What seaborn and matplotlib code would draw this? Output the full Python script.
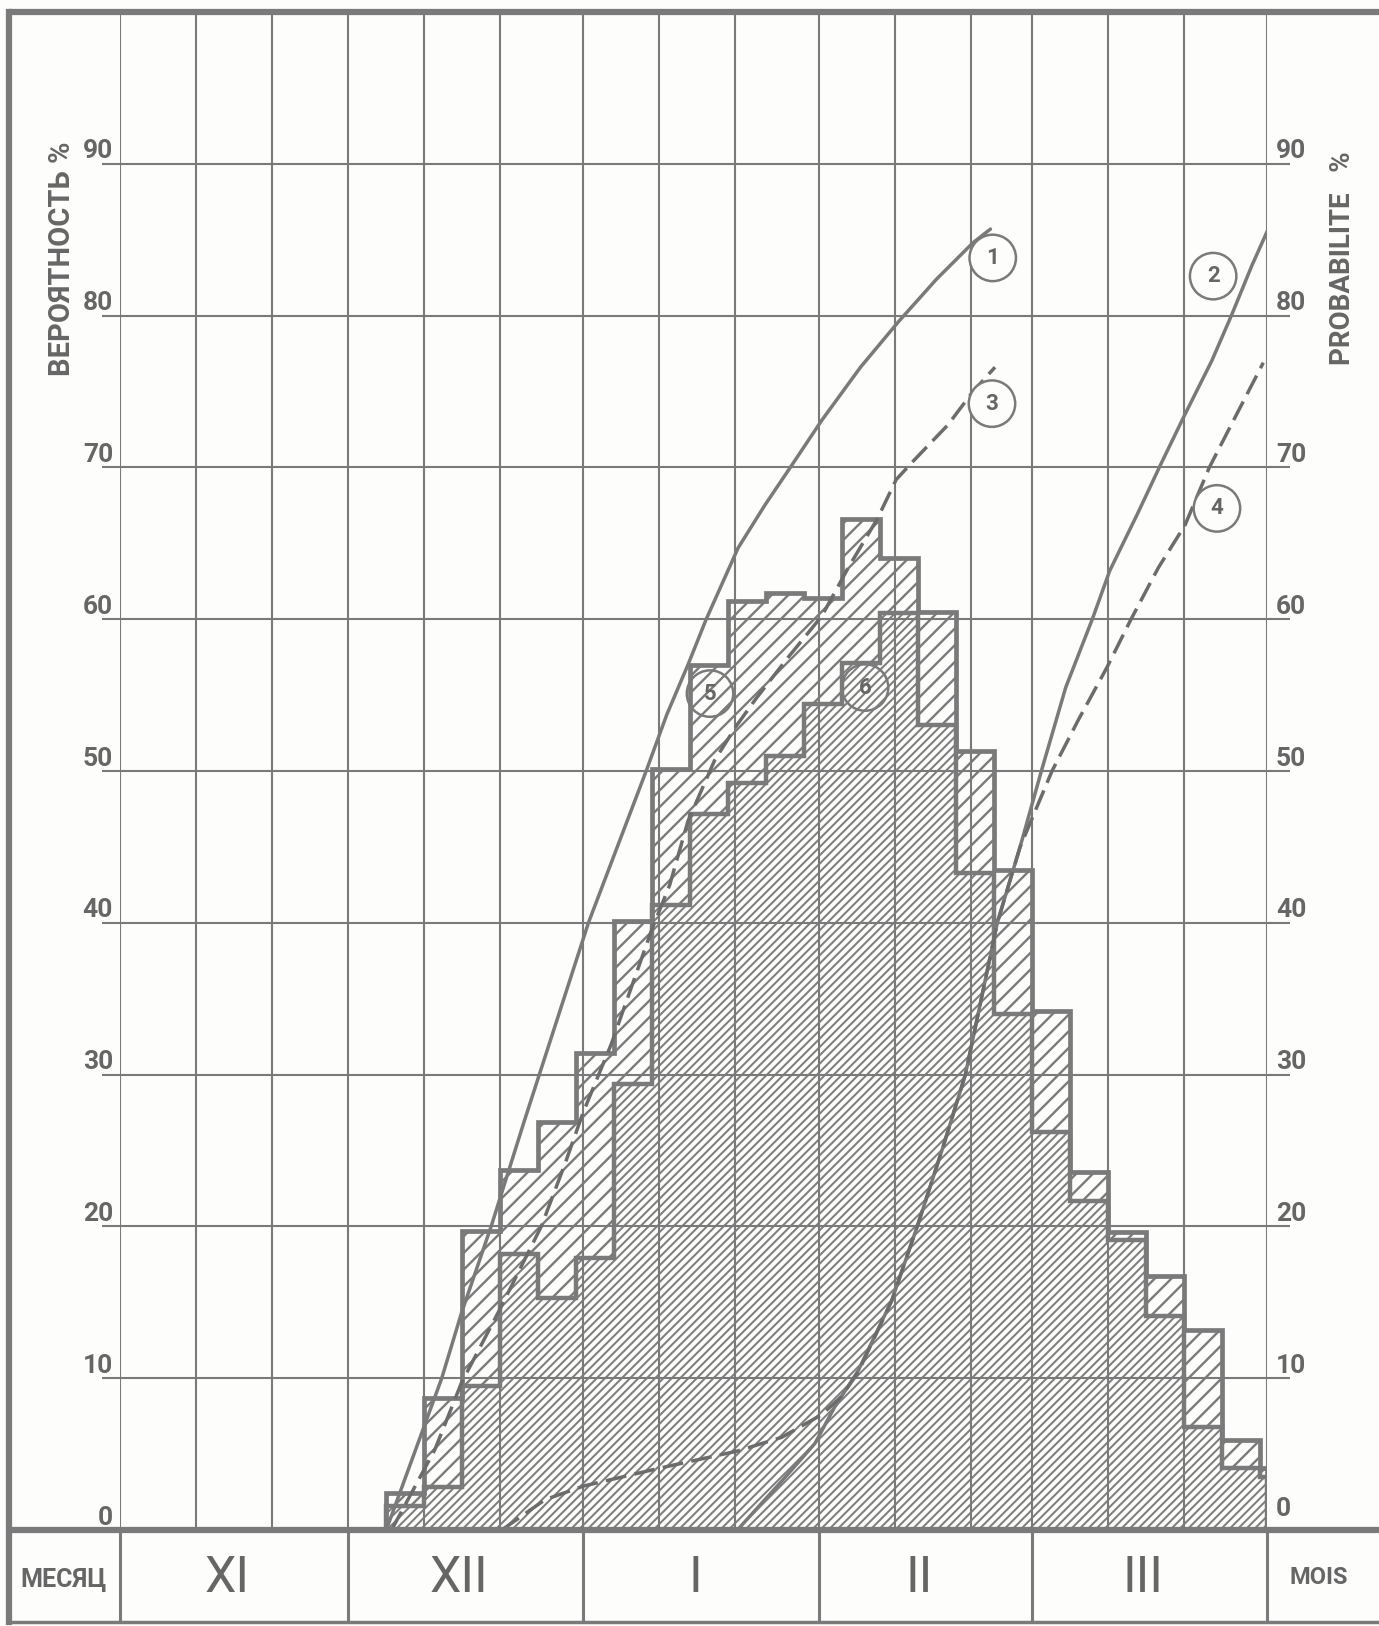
import matplotlib
matplotlib.use("Agg")
import matplotlib.pyplot as plt
import seaborn as sns
import pandas as pd

# ---------------- data ----------------
# x axis: days counted from 1 November (Nov 1 = 0 ... Apr 1 = 151)
pentad_edges = [35, 40, 45, 50, 55, 60, 65, 70, 75, 80, 85, 90, 95, 100,
                105, 110, 115, 120, 125, 130, 135, 140, 145, 150, 151]
hist5_pct = [2.45, 8.7, 19.7, 23.7, 26.9, 31.4, 40.1, 50.1, 57.0, 61.2, 61.7, 61.4,
             66.6, 64.0, 60.5, 51.3, 43.5, 34.2, 23.6, 19.6, 16.7, 13.2, 5.9, 4.1]
hist6_pct = [1.6, 2.8, 9.5, 18.2, 15.3, 17.9, 29.4, 41.2, 47.2, 49.2, 51.0, 54.4,
             57.1, 60.4, 53.0, 43.3, 34.0, 26.2, 21.7, 19.1, 14.1, 6.8, 4.1, 3.5]

curve1_day = [35.1, 42.4, 45.0, 48.9, 53.3, 57.5, 61.7, 65.5, 69.3, 72.0, 74.8, 77.2,
              81.4, 84.9, 88.4, 92.4, 97.5, 102.5, 107.5, 112.3, 114.6]
curve1_pct = [0.0, 10.0, 14.3, 20.0, 27.0, 33.5, 40.0, 45.0, 50.0, 53.7, 57.0, 60.0,
              64.7, 67.5, 70.1, 73.1, 76.6, 79.6, 82.4, 84.8, 85.7]

curve2_day = [81.3, 87.1, 91.5, 94.1, 97.2, 101.6, 105.1, 108.4, 111.3, 115.5, 118.5,
              121.3, 124.5, 128.0, 130.3, 134.0, 137.1, 140.2, 143.7, 146.3, 149.0, 151.5]
curve2_pct = [0.0, 3.2, 5.7, 8.1, 10.5, 15.1, 20.2, 25.3, 30.0, 40.0, 45.0,
              50.0, 55.5, 60.0, 63.2, 67.0, 70.3, 73.5, 77.0, 80.0, 83.3, 86.1]

curve3_day = [35.8, 41.5, 45.0, 49.8, 55.5, 58.6, 61.0, 64.7, 70.0, 72.4, 74.8, 78.3,
              81.2, 83.8, 88.0, 92.4, 95.9, 99.7, 102.2, 104.6, 109.0, 112.3, 115.2]
curve3_pct = [0.0, 5.3, 9.7, 14.3, 20.0, 24.1, 27.5, 32.0, 39.5, 42.5, 46.7, 50.7,
              53.0, 54.8, 57.5, 60.2, 63.4, 66.6, 69.2, 70.5, 72.8, 75.0, 76.6]

curve4_day = [50.3, 56.0, 61.1, 71.3, 81.3, 87.1, 92.4, 95.0, 97.2, 101.6, 105.1, 108.4,
              111.3, 115.5, 118.5, 122.7, 126.2, 129.9, 133.1, 136.7, 140.2, 143.4,
              147.2, 150.5]
curve4_pct = [0.0, 2.0, 2.9, 4.1, 5.2, 6.1, 7.6, 8.8, 10.4, 15.1, 20.2, 25.3,
              30.0, 40.0, 45.0, 50.0, 53.4, 56.8, 60.0, 63.4, 66.2, 70.0,
              73.7, 76.9]

curve_labels = ["1", "2", "3", "4", "5", "6"]
label_day = [114.9, 143.9, 114.8, 144.4, 77.7, 98.1]
label_pct = [83.8, 82.6, 74.2, 67.3, 55.1, 55.5]

decade_days = [0, 10, 20, 30, 40, 50, 61, 71, 81, 92, 102, 112, 120, 130, 140, 151]
month_bounds = [0, 30, 61, 92, 120, 151]
month_names = ["XI", "XII", "I", "II", "III"]
y_ticks = [0, 10, 20, 30, 40, 50, 60, 70, 80, 90]

# ---------------- style ----------------
sns.set_theme(style="white")
plt.rcParams["font.family"] = ["Roboto", "DejaVu Sans"]
GRAY = "#7a7a7a"
TXT = "#666666"
BG = "#fdfdfb"

W, H = 1379, 1626
X0, PXD = 119.5, 7.6      # pixel of day 0, pixels per day
Y0, PXP = 1530.0, 15.18   # pixel of 0 %, pixels per percent

def dx(px):
    return (px - X0) / PXD

def dy(py):
    return (Y0 - py) / PXP

fig = plt.figure(figsize=(W / 100, H / 100), dpi=100, facecolor=BG)
ax = fig.add_axes([X0 / W, (H - Y0) / H, 151 * PXD / W, 100 * PXP / H])

lefts = pentad_edges[:-1]
widths = [b - a for a, b in zip(pentad_edges[:-1], pentad_edges[1:])]
diff = [o - i for o, i in zip(hist5_pct, hist6_pct)]

# sparse hatch (histogram 5 above histogram 6)
with plt.rc_context({"hatch.linewidth": 1.7}):
    bars5 = ax.bar(lefts, diff, bottom=hist6_pct, width=widths, align="edge",
                   fill=False, hatch="//", edgecolor=GRAY, linewidth=0, zorder=1)
    for p in bars5:
        try:
            p.set_hatch_linewidth(1.7)
        except Exception:
            pass
# dense hatch (histogram 6)
with plt.rc_context({"hatch.linewidth": 1.45}):
    bars6 = ax.bar(lefts, hist6_pct, width=widths, align="edge",
                   fill=False, hatch="////", edgecolor="#7e7e7e", linewidth=0, zorder=1)
    for p in bars6:
        try:
            p.set_hatch_linewidth(1.45)
        except Exception:
            pass

# grid
ax.vlines(decade_days, 0, 100, color=GRAY, lw=1.5, zorder=2)
ax.hlines(y_ticks[1:], dx(102), dx(1290), color=GRAY, lw=1.5, zorder=2, clip_on=False)

# histogram outlines
ax.stairs(hist5_pct, pentad_edges, baseline=0, color=GRAY, lw=3.4, zorder=3)
ax.stairs(hist6_pct, pentad_edges, baseline=0, color=GRAY, lw=3.2, zorder=3)

# curves
sns.lineplot(x=curve1_day, y=curve1_pct, ax=ax, color=GRAY, lw=2.5, zorder=4, sort=False)
sns.lineplot(x=curve2_day, y=curve2_pct, ax=ax, color=GRAY, lw=2.5, zorder=4, sort=False)
sns.lineplot(x=curve3_day, y=curve3_pct, ax=ax, color="#6c6c6c", lw=2.5, zorder=4,
             sort=False, linestyle=(0, (6, 2.4)))
sns.lineplot(x=curve4_day, y=curve4_pct, ax=ax, color="#6c6c6c", lw=2.5, zorder=4,
             sort=False, linestyle=(0, (6, 2.4)))
ax.set_xlim(0, 151)
ax.set_ylim(0, 100)
ax.axis("off")

# circled curve numbers
for lab, xd, yp in zip(curve_labels, label_day, label_pct):
    fc = "none" if lab in ("5", "6") else BG
    ax.text(xd, yp, lab, ha="center", va="center", fontsize=16, weight="bold",
            color=TXT, zorder=6,
            bbox=dict(boxstyle="circle,pad=0.55", fc=fc, ec=GRAY, lw=1.8))

# ---------------- frame and bottom band ----------------
xl, xr, yb = dx(9), dx(1379), dy(1622)
ax.plot([xl, xr], [100, 100], color=GRAY, lw=4.5, clip_on=False, zorder=5,
        solid_capstyle="butt")
ax.plot([xl, xl], [yb, 100], color=GRAY, lw=4.5, clip_on=False, zorder=5,
        solid_capstyle="projecting")
ax.plot([xl, xr], [0, 0], color=GRAY, lw=4.5, clip_on=False, zorder=5,
        solid_capstyle="butt")
ax.plot([xl, xr], [yb, yb], color=GRAY, lw=2.5, clip_on=False, zorder=5,
        solid_capstyle="butt")
ax.vlines(month_bounds, yb, 0, color=GRAY, lw=2.2, clip_on=False, zorder=5)

for name, a, b in zip(month_names, month_bounds[:-1], month_bounds[1:]):
    ax.text((a + b) / 2 - 0.8, dy(1578), name, ha="center", va="center",
            fontsize=36, color=TXT, weight="normal",
            family=["Liberation Sans Narrow", "Roboto"], clip_on=False)
ax.text(dx(63), dy(1580), "МЕСЯЦ", ha="center", va="center", fontsize=18,
        weight="bold", color=TXT, clip_on=False)
ax.text(dx(1319), dy(1577), "MOIS", ha="center", va="center", fontsize=17,
        weight="bold", color=TXT, clip_on=False)

# tick labels (left and right)
for v in y_ticks:
    off = 0.35
    ax.text(dx(113), v + off, str(v), ha="right", va="baseline", fontsize=19,
            weight="bold", color=TXT, clip_on=False)
    ax.text(dx(1276), v + off + (0.6 if v == 0 else 0), str(v), ha="left",
            va="baseline", fontsize=19, weight="bold", color=TXT, clip_on=False)

# axis titles
ax.text(dx(62), dy(259), "ВЕРОЯТНОСТЬ %", rotation=90, ha="center", va="center",
        fontsize=21, weight="bold", color=TXT, clip_on=False)
ax.text(dx(1343), dy(258), "PROBABILITE   %", rotation=90, ha="center", va="center",
        fontsize=20, weight="bold", color=TXT, clip_on=False)

fig.savefig("out.png", dpi=100, facecolor=BG)
